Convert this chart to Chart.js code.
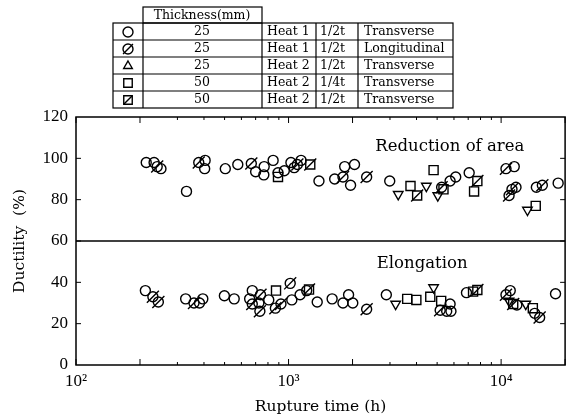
<!DOCTYPE html>
<html>
<head>
<meta charset="utf-8">
<script src="https://cdn.jsdelivr.net/npm/chart.js@4.4.0/dist/chart.umd.min.js"></script>
<style>
  html, body { margin: 0; padding: 0; background: #fff; }
</style>
</head>
<body>
<canvas id="chart" width="575" height="419"></canvas>
<script>
// [rupture time (h), ductility (%)]
// Heat 1, 25 mm, 1/2t, transverse (open circle)
const heat1TransRA = [[214,98],[233,98],[251,95],[331,84],[405,99],[403,95],[504,95],[577,97],[700,93.5],[768,96],[765,92],[846,99],[892,93],[955,94],[1026,98],[1063,95.5],[1145,99],[1390,89],[1648,90],[1837,96],[2043,97],[1958,87],[2992,89],[5754,89],[6115,91],[7075,93],[11530,96],[11750,86],[14650,86],[18550,88]];
const heat1TransEL = [[212,36],[328,32],[381,30],[395,32],[499,33.5],[555,32],[675,36],[656,32],[725,30],[807,31.5],[1036,31.5],[1133,34],[1217,36],[1364,30.5],[1603,32],[1916,34],[1803,30],[2005,30],[2884,34],[5754,29.5],[5546,26],[5808,26],[6871,35],[11040,36],[11860,29],[14390,25],[18030,34.5]];
// Heat 1, 25 mm, 1/2t, longitudinal (slashed circle)
const heat1LongRA = [[241,96],[378,98],[668,97.5],[1100,97],[1803,91],[2330,91],[5250,86],[10540,95],[11250,85],[10900,82],[15630,87]];
const heat1LongEL = [[230,33],[244,30.5],[359,30],[675,29.5],[738,34],[733,26],[867,27.5],[921,29.5],[1018,39.5],[2330,27],[5168,26.5],[10540,34],[15180,23]];
// Heat 2, 25 mm, 1/2t, transverse (triangle)
const heat2Half25RA = [[3281,82.6],[4449,86.6],[5037,82],[13300,75]];
const heat2Half25EL = [[3190,29.5],[4812,37.5],[10900,31],[13060,29.5]];
// Heat 2, 50 mm, 1/4t, transverse (square)
const heat2Quarter50RA = [[892,91],[3747,86.6],[4812,94.3],[5356,85],[7461,84],[14550,77]];
const heat2Quarter50EL = [[873,36],[3615,32],[3992,31.5],[4642,33],[5224,31],[7380,35.5],[14100,27.5]];
// Heat 2, 50 mm, 1/2t, transverse (slashed square)
const heat2Half50RA = [[1265,97],[4027,82],[7730,89]];
const heat2Half50EL = [[1248,36.5],[7730,36.3],[11400,29.5]];

// legend table
const legendThickness = ['25', '25', '25', '50', '50'];
const legendHeat = ['Heat 1', 'Heat 1', 'Heat 2', 'Heat 2', 'Heat 2'];
const legendPos = ['1/2t', '1/2t', '1/2t', '1/4t', '1/2t'];
const legendDir = ['Transverse', 'Longitudinal', 'Transverse', 'Transverse', 'Transverse'];

const supDigits = { 2: '\u00b2', 3: '\u00b3', 4: '\u2074' };
const SERIF = '"Liberation Serif", serif';
const WIDE_SERIF = '"DejaVu Serif", serif';

// each marker = base shape, plus an optional slash drawn as a rotated 'line' point
const markers = [
  { shape: 'circle', radius: 5, rotation: 0, slash: false },
  { shape: 'circle', radius: 5, rotation: 0, slash: true },
  { shape: 'triangle', radius: 5.5, rotation: 180, slash: false },
  { shape: 'rect', radius: 6.4, rotation: 0, slash: false },
  { shape: 'rect', radius: 6.4, rotation: 0, slash: true }
];
const SLASH = { pointStyle: 'line', radius: 8.5, rotation: -45 };

const seriesData = [
  heat1TransRA.concat(heat1TransEL),
  heat1LongRA.concat(heat1LongEL),
  heat2Half25RA.concat(heat2Half25EL),
  heat2Quarter50RA.concat(heat2Quarter50EL),
  heat2Half50RA.concat(heat2Half50EL)
];

const datasets = [];
seriesData.forEach((pts, i) => {
  const data = pts.map(p => ({ x: p[0], y: p[1] }));
  const m = markers[i];
  datasets.push({
    data,
    pointStyle: m.shape,
    pointRadius: m.radius,
    pointRotation: m.rotation,
    borderColor: '#000',
    backgroundColor: 'rgba(0,0,0,0)',
    borderWidth: 1.4,
    showLine: false
  });
  if (m.slash) {
    datasets.push({
      data,
      pointStyle: SLASH.pointStyle,
      pointRadius: SLASH.radius,
      pointRotation: SLASH.rotation,
      borderColor: '#000',
      backgroundColor: 'rgba(0,0,0,0)',
      borderWidth: 1.4,
      showLine: false
    });
  }
});

// frame, inward ticks, 60% divider, band labels and the legend table
const decorations = {
  id: 'decorations',
  afterDraw(chart) {
    const { ctx, chartArea: a, scales: { x, y } } = chart;
    ctx.save();
    ctx.strokeStyle = '#000';
    ctx.fillStyle = '#000';
    ctx.lineWidth = 1.5;
    ctx.strokeRect(a.left, a.top, a.right - a.left, a.bottom - a.top);

    const y60 = y.getPixelForValue(60);
    ctx.beginPath(); ctx.moveTo(a.left, y60); ctx.lineTo(a.right, y60); ctx.stroke();

    ctx.lineWidth = 1;
    ctx.beginPath();
    for (let d = 100; d <= 10000; d *= 10) {
      for (let k = 1; k <= 9; k++) {
        const v = k * d;
        if (v > 20000) break;
        const px = x.getPixelForValue(v);
        const len = k <= 2 ? 6 : 3;
        ctx.moveTo(px, a.bottom); ctx.lineTo(px, a.bottom - len);
        ctx.moveTo(px, a.top); ctx.lineTo(px, a.top + len);
      }
    }
    for (let v = 20; v <= 100; v += 20) {
      const py = y.getPixelForValue(v);
      ctx.moveTo(a.left, py); ctx.lineTo(a.left + 5, py);
      ctx.moveTo(a.right, py); ctx.lineTo(a.right - 5, py);
    }
    ctx.stroke();

    ctx.font = '16.5px ' + WIDE_SERIF;
    ctx.textAlign = 'left';
    ctx.textBaseline = 'middle';
    ctx.fillText('Reduction of area', x.getPixelForValue(2560), y.getPixelForValue(105.5));
    ctx.fillText('Elongation', x.getPixelForValue(2600), y.getPixelForValue(49));

    // legend table
    const colX = [113, 143, 262, 316, 358, 453];
    const rowY = [23, 40, 57, 74, 91, 108];
    ctx.lineWidth = 1.2;
    ctx.strokeRect(143, 7, 119, 16);
    ctx.strokeRect(113, 23, 340, 85);
    ctx.beginPath();
    rowY.slice(1, -1).forEach(ry => { ctx.moveTo(113, ry); ctx.lineTo(453, ry); });
    colX.slice(1, -1).forEach(cx => { ctx.moveTo(cx, 23); ctx.lineTo(cx, 108); });
    ctx.stroke();

    ctx.font = '12.5px ' + WIDE_SERIF;
    ctx.textAlign = 'center';
    ctx.fillText('Thickness(mm)', 202, 15.5);
    for (let i = 0; i < 5; i++) {
      const cy = rowY[i] + 9;
      ctx.textAlign = 'center';
      ctx.fillText(legendThickness[i], 202, cy);
      ctx.textAlign = 'left';
      ctx.fillText(legendHeat[i], 267, cy);
      ctx.fillText(legendPos[i], 320, cy);
      ctx.fillText(legendDir[i], 364, cy);

      const m = markers[i];
      ctx.save();
      ctx.lineWidth = 1.4;
      ctx.fillStyle = 'rgba(0,0,0,0)';
      ctx.strokeStyle = '#000';
      Chart.helpers.drawPoint(ctx, {
        pointStyle: m.shape,
        radius: m.shape === 'rect' ? 6 : 5,
        rotation: 0,
        borderWidth: 1.4
      }, 128, cy);
      if (m.slash) {
        Chart.helpers.drawPoint(ctx, {
          pointStyle: SLASH.pointStyle,
          radius: m.shape === 'rect' ? 6 : 7,
          rotation: SLASH.rotation,
          borderWidth: 1.4
        }, 128, cy);
      }
      ctx.restore();
    }
    ctx.restore();
  }
};

new Chart(document.getElementById('chart'), {
  type: 'scatter',
  data: { datasets },
  plugins: [decorations],
  options: {
    responsive: false,
    animation: false,
    layout: { padding: { top: 117, right: 6, left: 0, bottom: 0 } },
    plugins: { legend: { display: false }, tooltip: { enabled: false } },
    scales: {
      x: {
        type: 'logarithmic',
        min: 100,
        max: 20000,
        grid: { display: false, drawTicks: false },
        border: { display: false },
        ticks: {
          autoSkip: false,
          maxRotation: 0,
          padding: 6,
          color: '#000',
          font: { family: SERIF, size: 17 },
          callback: (v) => {
            const e = Math.log10(v);
            if (Math.abs(e - Math.round(e)) < 1e-9) return '10' + supDigits[Math.round(e)];
            return '';
          }
        },
        title: {
          display: true,
          text: 'Rupture time (h)',
          color: '#000',
          font: { family: WIDE_SERIF, size: 15.5 },
          padding: { top: 0, bottom: 3 }
        },
        afterFit: (s) => { s.height = 54; }
      },
      y: {
        min: 0,
        max: 120,
        grid: { display: false, drawTicks: false },
        border: { display: false },
        ticks: {
          stepSize: 20,
          padding: 8,
          color: '#000',
          font: { family: SERIF, size: 17 }
        },
        title: {
          display: true,
          text: 'Ductility  (%)',
          color: '#000',
          font: { family: WIDE_SERIF, size: 15.5 },
          padding: { top: 11, bottom: 0 }
        },
        afterFit: (s) => { s.width = 76; }
      }
    }
  }
});
</script>
</body>
</html>
